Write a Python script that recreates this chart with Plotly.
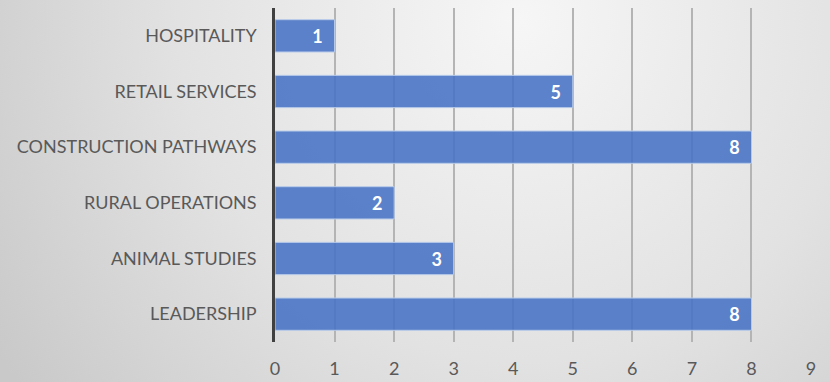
import plotly.graph_objects as go
import urllib.parse

categories = ["LEADERSHIP", "ANIMAL STUDIES", "RURAL OPERATIONS",
              "CONSTRUCTION PATHWAYS", "RETAIL SERVICES", "HOSPITALITY"]
values = [8, 3, 2, 8, 5, 1]
x_ticks = [0, 1, 2, 3, 4, 5, 6, 7, 8, 9]

svg = ('<svg xmlns="http://www.w3.org/2000/svg" width="830" height="382" viewBox="0 0 830 382" preserveAspectRatio="none">'
       '<defs><radialGradient id="g" cx="520" cy="20" r="620" gradientUnits="userSpaceOnUse">'
       '<stop offset="0" stop-color="#f6f6f6"/><stop offset="0.55" stop-color="#e2e2e2"/>'
       '<stop offset="1" stop-color="#c9c9c9"/></radialGradient></defs>'
       '<rect width="830" height="382" fill="url(#g)"/></svg>')
bg_uri = "data:image/svg+xml;charset=utf-8," + urllib.parse.quote(svg)

fig = go.Figure()
fig.add_trace(go.Bar(
    y=categories, x=values, orientation="h",
    marker=dict(color="rgba(70,114,196,0.88)", line=dict(color="#b8cbea", width=1)),
    text=[str(v) + "\u00a0\u00a0" for v in values], textposition="inside",
    insidetextanchor="end",
    textfont=dict(family="Lato, sans-serif", size=18, color="white", weight="bold"),
    cliponaxis=False,
))

fig.update_layout(
    width=830, height=382,
    margin=dict(l=275, r=19, t=8, b=40),
    paper_bgcolor="rgba(0,0,0,0)", plot_bgcolor="rgba(0,0,0,0)",
    bargap=0.42,
    showlegend=False,
    images=[dict(source=bg_uri, xref="paper", yref="paper", x=-275/536, y=1+8/334,
                 sizex=830/536, sizey=382/334, xanchor="left", yanchor="top",
                 sizing="stretch", layer="below")],
    xaxis=dict(range=[0, 9], tickvals=x_ticks, showgrid=True, gridcolor="#b4b4b4",
               gridwidth=1.5, zeroline=False, showline=False,
               tickfont=dict(family="Lato, sans-serif", size=18, color="#595959"),
               ticks="", ticklen=0, ticklabelstandoff=14, automargin=False),
    yaxis=dict(showline=True, linecolor="#404040", linewidth=2.5, showgrid=False,
               tickfont=dict(family="Lato, sans-serif", size=18, color="#595959"),
               ticks="", ticklabelstandoff=12, automargin=False),
)

fig.write_html("out.html")
